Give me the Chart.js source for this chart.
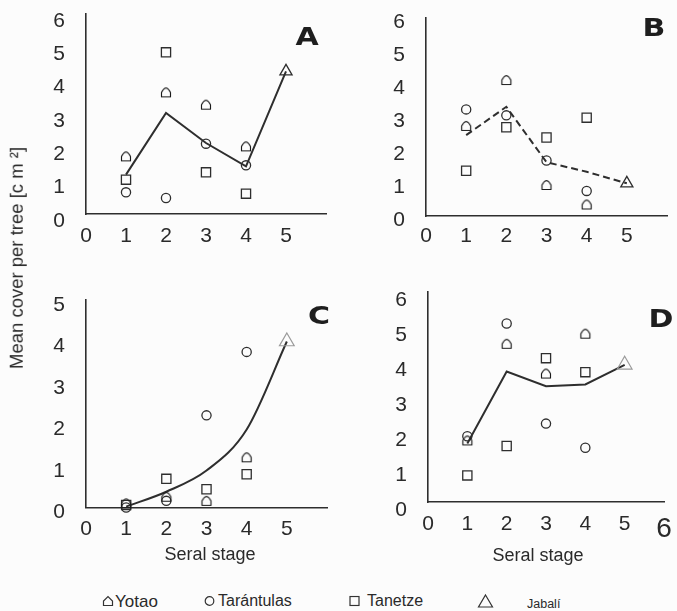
<!DOCTYPE html>
<html>
<head>
<meta charset="utf-8">
<script src="https://cdn.jsdelivr.net/npm/chart.js@4.4.1/dist/chart.umd.min.js"></script>
<style>
  html, body { margin: 0; padding: 0; background: #fcfcfc; }
  #wrap { position: relative; width: 677px; height: 611px; overflow: hidden;
          font-family: "Liberation Sans", Arial, sans-serif; color: #2a2a2a; }
  #wrap canvas { position: absolute; }
  .txt { position: absolute; white-space: nowrap; line-height: 1; transform: translate(-50%, -50%); }
  .letter { font-family: "DejaVu Sans", sans-serif; font-weight: 900; font-size: 24px; color: #1e1e1e;
            transform: translate(-50%, -50%) scaleX(1.25); }
  #ytitle { font-size: 18.5px; transform: translate(-50%, -50%) rotate(-90deg); }
  .lg { position: absolute; top: 601px; transform: translateY(-50%); white-space: nowrap; line-height: 1; }
  .lg svg { display: block; }
</style>
</head>
<body>
<div id="wrap">
  <canvas id="cA" width="340" height="262" style="left:0;top:0"></canvas>
  <canvas id="cB" width="337" height="262" style="left:340px;top:0"></canvas>
  <canvas id="cC" width="340" height="318" style="left:0;top:262px"></canvas>
  <canvas id="cD" width="337" height="318" style="left:340px;top:262px"></canvas>

  <div class="txt letter" style="left:307px;top:37px">A</div>
  <div class="txt letter" style="left:654px;top:28px">B</div>
  <div class="txt letter" style="left:319px;top:316px">C</div>
  <div class="txt letter" style="left:661px;top:319px">D</div>

  <div class="txt" id="ytitle" style="left:17px;top:258px">Mean cover per tree [c m ²]</div>
  <div class="txt" style="left:210px;top:554px;font-size:18px">Seral stage</div>
  <div class="txt" style="left:538px;top:555px;font-size:18px">Seral stage</div>

  <!-- key -->
  <div class="lg" style="left:102px"><svg width="12" height="12" viewBox="0 0 12 12"><path d="M1.5 10.5 H10.5 V6 L6 1.5 L1.5 6 Z" fill="none" stroke="#333" stroke-width="1.2"/></svg></div>
  <div class="lg" style="left:115px;font-size:17px">Yotao</div>
  <div class="lg" style="left:204px"><svg width="11" height="11" viewBox="0 0 11 11"><circle cx="5.5" cy="5.5" r="4.3" fill="none" stroke="#333" stroke-width="1.2"/></svg></div>
  <div class="lg" style="left:218px;font-size:16px">Tarántulas</div>
  <div class="lg" style="left:349px"><svg width="11" height="11" viewBox="0 0 11 11"><rect x="1" y="1" width="9" height="9" fill="none" stroke="#333" stroke-width="1.2"/></svg></div>
  <div class="lg" style="left:367px;font-size:16px">Tanetze</div>
  <div class="lg" style="left:477px"><svg width="17" height="15" viewBox="0 0 17 15"><path d="M8.5 1.5 L15.5 13.5 H1.5 Z" fill="none" stroke="#333" stroke-width="1.2"/></svg></div>
  <div class="lg" style="left:527px;top:604px;font-size:12.5px">Jabalí</div>
</div>

<script>
// Seral stages on the x axis
const stages = [1, 2, 3, 4, 5];
const markerStages = [1, 2, 3, 4];
const jabaliStage = 5;

// Panel A
const meanA       = [1.18, 3.03, 2.13, 1.43, 4.28];
const yotaoA      = [1.73, 3.65, 3.28, 2.03];
const tarantulasA = [0.65, 0.48, 2.11, 1.46];
const tanetzeA    = [1.03, 4.85, 1.25, 0.61];
const jabaliA     = 4.28;

// Panel B
const meanB       = [2.45, 3.31, 1.63, 1.34, 0.99];
const yotaoB      = [2.73, 4.12, 0.94, 0.35];
const tarantulasB = [3.23, 3.05, 1.68, 0.76];
const tanetzeB    = [1.37, 2.69, 2.38, 2.98];
const jabaliB     = 0.99;

// Panel C
const meanC       = [0.02, 0.38, 0.89, 1.88, 4.0];
const yotaoC      = [0.10, 0.26, 0.16, 1.21];
const tarantulasC = [0.0, 0.16, 2.22, 3.75];
const tanetzeC    = [0.06, 0.69, 0.44, 0.80];
const jabaliC     = 4.0;

// Panel D
const meanD       = [1.67, 3.73, 3.31, 3.36, 3.92];
const yotaoD      = [1.76, 4.52, 3.67, 4.81];
const tarantulasD = [1.88, 5.10, 2.24, 1.55];
const tanetzeD    = [0.76, 1.60, 4.11, 3.71];
const jabaliD     = 3.92;

const INK = '#2e2e2e';
const FONT = "'Liberation Sans', Arial, sans-serif";

// open "house" marker used for Yotao
function houseMarker() {
  const c = document.createElement('canvas');
  c.width = 14; c.height = 14;
  const g = c.getContext('2d');
  g.strokeStyle = '#1a1a1a';
  g.lineWidth = 1.15;
  g.lineJoin = 'round';
  g.beginPath();
  g.moveTo(2.5, 11.5);
  g.lineTo(11.5, 11.5);
  g.lineTo(11.5, 7);
  g.quadraticCurveTo(9.5, 3, 7, 2.5);
  g.quadraticCurveTo(4.5, 3, 2.5, 7);
  g.closePath();
  g.stroke();
  return c;
}
const HOUSE = houseMarker();

const pts = (xs, ys) => xs.map((x, i) => ({ x, y: ys[i] }));

function panel(id, box, d) {
  const canvas = document.getElementById(id);
  const W = canvas.width, H = canvas.height;
  const markerBase = { showLine: false, clip: false, pointBorderColor: INK,
                       pointBackgroundColor: 'rgba(0,0,0,0)', pointBorderWidth: 1.3 };
  return new Chart(canvas, {
    type: 'scatter',
    data: {
      datasets: [
        { ...markerBase, label: 'Jabalí', data: [{ x: jabaliStage, y: d.jabali }],
          pointStyle: 'triangle', pointRadius: d.triR,
          pointBorderColor: d.triColor, pointBorderWidth: d.triW },
        { ...markerBase, label: 'Yotao', data: pts(markerStages, d.yotao),
          pointStyle: HOUSE, pointRadius: 5 },
        { ...markerBase, label: 'Tarántulas', data: pts(markerStages, d.tarantulas),
          pointStyle: 'circle', pointRadius: 4.6 },
        { ...markerBase, label: 'Tanetze', data: pts(markerStages, d.tanetze),
          pointStyle: 'rect', pointRadius: 6.5 },
        { label: 'mean', data: pts(stages, d.mean), showLine: true, pointRadius: 0,
          borderColor: INK, borderWidth: 2, borderDash: d.dash || [],
          cubicInterpolationMode: d.smooth ? 'monotone' : 'default', tension: 0, clip: false }
      ]
    },
    options: {
      responsive: false,
      animation: false,
      events: [],
      layout: { padding: { left: 0, top: box.top, right: W - box.right, bottom: 0 } },
      plugins: { legend: { display: false }, tooltip: { enabled: false } },
      scales: {
        x: {
          type: 'linear', min: 0, max: 6,
          grid: { display: false },
          border: { display: true, color: INK, width: 1.6 },
          afterFit: s => { s.height = H - box.bottom; s.paddingLeft = 0; s.paddingRight = 0; },
          ticks: {
            stepSize: 1, autoSkip: false, maxRotation: 0, padding: box.xPad, color: '#2a2a2a',
            font: ctx => ({ family: FONT, size: (ctx.tick && ctx.tick.value === 6) ? 28 : 21 }),
            callback: v => (v <= 5 || d.showSix) ? String(v) : ''
          }
        },
        y: {
          type: 'linear', min: 0, max: d.yMax,
          grid: { display: false },
          border: { display: true, color: INK, width: 1.6 },
          afterFit: s => { s.width = box.left; s.paddingTop = 0; s.paddingBottom = 0; },
          ticks: { stepSize: 1, padding: 13, labelOffset: box.yOff, color: '#2a2a2a',
                   font: { family: FONT, size: 21 } }
        }
      }
    }
  });
}

panel('cA', { left: 86, right: 326, top: 14, bottom: 214, xPad: 2, yOff: 7 },
  { mean: meanA, yotao: yotaoA, tarantulas: tarantulasA, tanetze: tanetzeA, jabali: jabaliA,
    yMax: 6, triR: 7, triColor: INK, triW: 1.3 });

panel('cB', { left: 86, right: 327, top: 18, bottom: 216, xPad: 0, yOff: 4 },
  { mean: meanB, yotao: yotaoB, tarantulas: tarantulasB, tanetze: tanetzeB, jabali: jabaliB,
    yMax: 6, triR: 7, triColor: INK, triW: 1.3, dash: [7, 4] });

panel('cC', { left: 86, right: 327, top: 38, bottom: 245.5, xPad: 1, yOff: 5 },
  { mean: meanC, yotao: yotaoC, tarantulas: tarantulasC, tanetze: tanetzeC, jabali: jabaliC,
    yMax: 5, triR: 8.5, triColor: '#9a9a9a', triW: 1.2, smooth: true });

panel('cD', { left: 88, right: 324, top: 30, bottom: 240, xPad: 2, yOff: 8 },
  { mean: meanD, yotao: yotaoD, tarantulas: tarantulasD, tanetze: tanetzeD, jabali: jabaliD,
    yMax: 6, triR: 8.5, triColor: '#9a9a9a', triW: 1.2, showSix: true });
</script>
</body>
</html>
